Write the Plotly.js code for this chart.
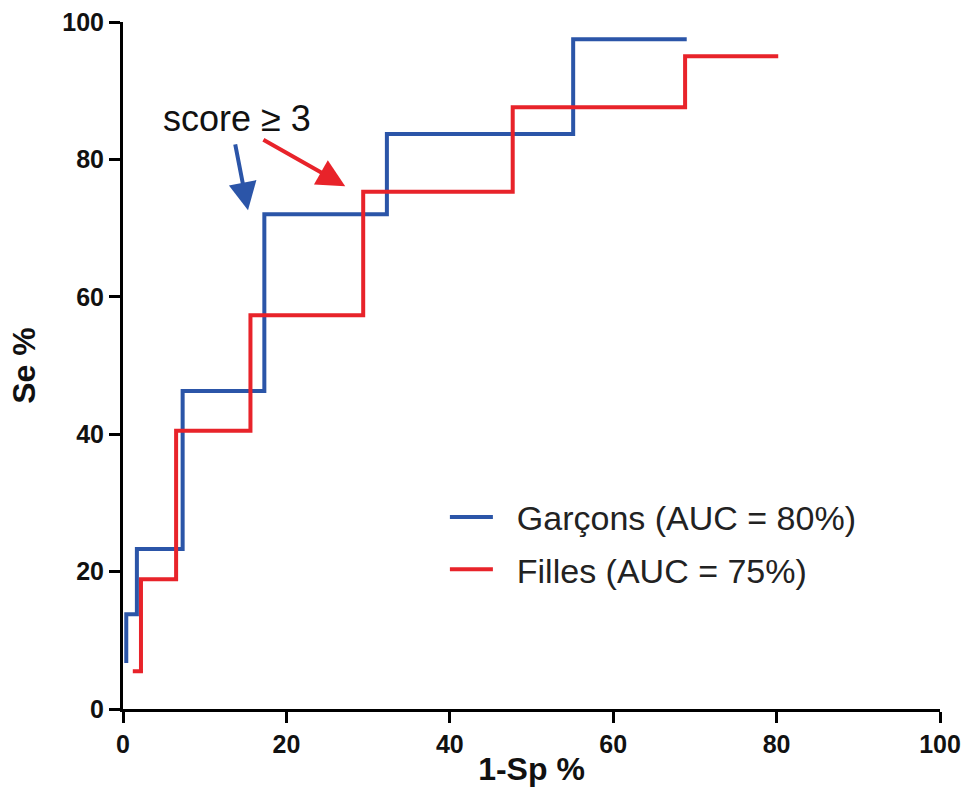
<!DOCTYPE html>
<html>
<head>
<meta charset="utf-8">
<script src="https://cdn.plot.ly/plotly-3.0.1.min.js"></script>
<style>html,body{margin:0;padding:0;background:#fff;}#chart{width:967px;height:787px;}</style>
</head>
<body>
<div id="chart"></div>
<script>
// ROC step points (1-Sp %, Se %)
const garconsX = [0.4, 0.4, 1.7, 7.3, 17.3, 32.3, 55.1, 69.0];
const garconsY = [6.7, 13.8, 23.3, 46.3, 72.0, 83.7, 97.5, 97.5];
const fillesX = [1.2, 2.2, 6.5, 15.6, 29.4, 47.7, 68.8, 80.2];
const fillesY = [5.5, 18.9, 40.5, 57.3, 75.3, 87.6, 95.0, 95.0];
const seriesNames = ['Garçons (AUC = 80%)', 'Filles (AUC = 75%)'];
const tickVals = [0, 20, 40, 60, 80, 100];

const blue = '#2b55a8';
const red = '#e8232a';
const pad = '\u00A0\u00A0';

const traces = [
  {x: garconsX, y: garconsY, type: 'scatter', mode: 'lines', line: {shape: 'hv', color: blue, width: 4},
   name: pad + seriesNames[0], legendgroup: 'g'},
  {x: fillesX, y: fillesY, type: 'scatter', mode: 'lines', line: {shape: 'hv', color: red, width: 4},
   name: pad + seriesNames[1], legendgroup: 'f'}
];

const axisCommon = {
  range: [0, 100], tickvals: tickVals, showgrid: false, zeroline: false,
  showline: true, linecolor: '#000', linewidth: 3,
  ticks: 'outside', ticklen: 11, tickwidth: 3, tickcolor: '#000',
  tickfont: {family: 'Liberation Sans, Arial, sans-serif', size: 25, color: '#111', weight: 'bold'}
};

const layout = {
  width: 967, height: 787,
  margin: {l: 123, r: 27, t: 22, b: 78},
  paper_bgcolor: '#fff', plot_bgcolor: '#fff',
  showlegend: true,
  legend: {x: 0.394, y: 0.321, xanchor: 'left', yanchor: 'top', bgcolor: 'rgba(0,0,0,0)',
    font: {family: 'Liberation Sans, Arial, sans-serif', size: 34, color: '#222'},
    tracegroupgap: 5, itemwidth: 43},
  xaxis: Object.assign({}, axisCommon, {
    title: {text: '1-Sp %', standoff: 10, font: {family: 'Liberation Sans, Arial, sans-serif', size: 32, color: '#111', weight: 'bold'}}
  }),
  yaxis: Object.assign({}, axisCommon, {
    title: {text: 'Se %', standoff: 18, font: {family: 'Liberation Sans, Arial, sans-serif', size: 32, color: '#111', weight: 'bold'}}
  }),
  annotations: [
    {x: 14.0, y: 86.0, xref: 'x', yref: 'y', text: 'score ≥ 3', showarrow: false,
     font: {family: 'Liberation Sans, Arial, sans-serif', size: 36, color: '#111'}},
    {x: 15.3, y: 72.6, ax: 13.7, ay: 82.4, xref: 'x', yref: 'y', axref: 'x', ayref: 'y', text: '',
     showarrow: true, arrowhead: 2, arrowsize: 1.4, arrowwidth: 4, arrowcolor: blue},
    {x: 27.2, y: 76.1, ax: 17.0, ay: 83.0, xref: 'x', yref: 'y', axref: 'x', ayref: 'y', text: '',
     showarrow: true, arrowhead: 2, arrowsize: 1.4, arrowwidth: 4, arrowcolor: red}
  ]
};

Plotly.newPlot('chart', traces, layout, {displayModeBar: false, staticPlot: true});
</script>
</body>
</html>
